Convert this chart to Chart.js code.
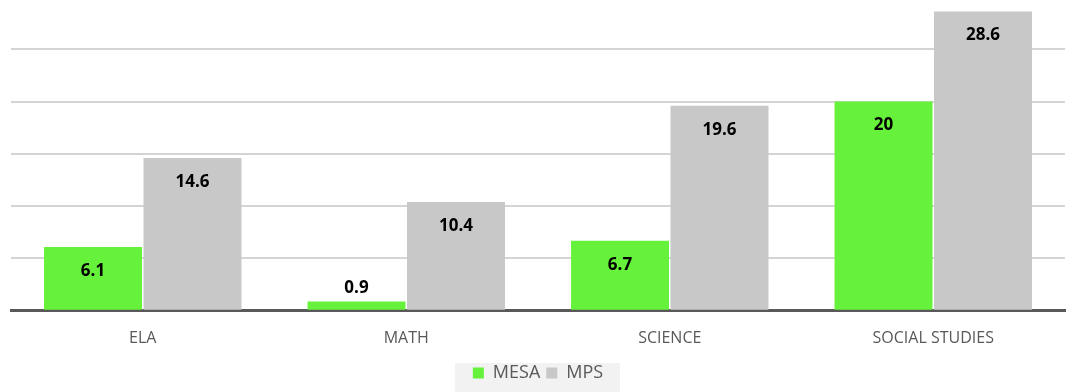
<!DOCTYPE html>
<html>
<head>
<meta charset="utf-8">
<script src="https://cdn.jsdelivr.net/npm/chart.js@4"></script>
<style>
  html, body { margin: 0; padding: 0; background: #fff; }
  #wrap { width: 1068px; height: 392px; }
</style>
</head>
<body>
<div id="wrap"><canvas id="myChart" width="1068" height="392"></canvas></div>
<script>
  const subjects = ['ELA', 'MATH', 'SCIENCE', 'SOCIAL STUDIES'];
  const mesaValues = [6.1, 0.9, 6.7, 20];
  const mpsValues = [14.6, 10.4, 19.6, 28.6];

  // value labels: inside the top of tall bars, above short ones
  const valueLabels = {
    id: 'valueLabels',
    afterDatasetsDraw(chart) {
      const ctx = chart.ctx;
      ctx.save();
      ctx.font = 'bold 17px "Open Sans"';
      ctx.fillStyle = '#000';
      ctx.textAlign = 'center';
      ctx.textBaseline = 'middle';
      chart.data.datasets.forEach((ds, i) => {
        chart.getDatasetMeta(i).data.forEach((bar, j) => {
          const h = bar.base - bar.y;
          const y = h > 40 ? bar.y + 24 : bar.y - 13;
          ctx.fillText(String(ds.data[j]), bar.x, y);
        });
      });
      ctx.restore();
    }
  };

  // light grey box behind the legend
  const legendBox = {
    id: 'legendBox',
    beforeDraw(chart) {
      const ctx = chart.ctx;
      ctx.save();
      ctx.fillStyle = '#f2f2f2';
      ctx.fillRect(455, 363, 165, 29);
      ctx.restore();
    }
  };

  const ctx = document.getElementById('myChart').getContext('2d');
  new Chart(ctx, {
    type: 'bar',
    data: {
      labels: subjects,
      datasets: [
        {
          label: 'MESA',
          data: mesaValues,
          backgroundColor: '#66f23a',
          barPercentage: 0.985,
          categoryPercentage: 0.755
        },
        {
          label: 'MPS',
          data: mpsValues,
          backgroundColor: '#c8c8c8',
          barPercentage: 0.985,
          categoryPercentage: 0.755
        }
      ]
    },
    options: {
      responsive: false,
      animation: false,
      layout: { padding: { left: 11, right: 3, top: 0, bottom: 0 } },
      plugins: {
        tooltip: { enabled: false },
        legend: {
          position: 'bottom',
          labels: {
            boxWidth: 11,
            boxHeight: 11,
            padding: 6,
            color: '#595959',
            font: { family: '"Open Sans"', size: 18 }
          }
        }
      },
      scales: {
        x: {
          grid: { display: false },
          border: { color: '#595959', width: 3 },
          ticks: {
            color: '#595959',
            padding: 10,
            font: { family: '"Open Sans"', size: 16 }
          }
        },
        y: {
          min: 0,
          max: 29.7,
          ticks: { display: false, stepSize: 5 },
          border: { display: false },
          grid: {
            color: c => (c.tick && c.tick.value % 5 === 0) ? '#d4d4d4' : 'rgba(0,0,0,0)',
            lineWidth: 2,
            drawTicks: false
          }
        }
      }
    },
    plugins: [legendBox, valueLabels]
  });
</script>
</body>
</html>
